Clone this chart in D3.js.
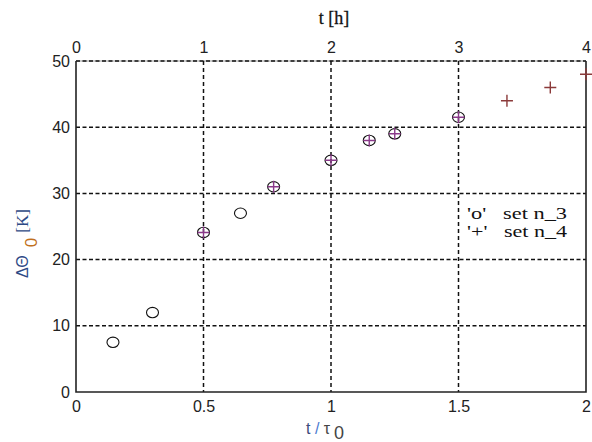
<!DOCTYPE html>
<html><head><meta charset="utf-8">
<script src="https://cdn.jsdelivr.net/npm/d3@7"></script>
<style>body{margin:0;background:#fff}svg{display:block}</style>
</head><body><svg id="c" width="592" height="442"></svg>
<script>
// data
const setN3x = [0.145, 0.30, 0.50, 0.645, 0.775, 1.00, 1.15, 1.25, 1.50];
const setN3y = [7.5, 12.0, 24.1, 27.0, 31.0, 35.0, 38.0, 39.0, 41.5];
const setN4x = [0.50, 0.775, 1.00, 1.15, 1.25, 1.50, 1.69, 1.86, 2.00];
const setN4y = [24.1, 31.0, 35.0, 38.0, 39.0, 41.5, 44.0, 46.0, 48.0];
const bottomTicks = [0, 0.5, 1, 1.5, 2];
const topTicks = [0, 1, 2, 3, 4];
const yTicks = [0, 10, 20, 30, 40, 50];

const svg = d3.select('#c');
const L = 76, R = 586, T = 61, B = 392;
const x = d3.scaleLinear().domain([0, 2]).range([L, R]);
const xTop = d3.scaleLinear().domain([0, 4]).range([L, R]);
const y = d3.scaleLinear().domain([0, 50]).range([B, T]);

// top frame (light solid under dashed grid)
svg.append('line').attr('x1', L).attr('x2', R).attr('y1', T).attr('y2', T)
  .attr('stroke', '#999').attr('stroke-width', 1);

// grid
const g = svg.append('g');
g.selectAll('.vg').data([0.5, 1, 1.5]).enter().append('line')
  .attr('x1', d => x(d)).attr('x2', d => x(d)).attr('y1', T).attr('y2', B)
  .attr('stroke', '#111').attr('stroke-width', 1.5).attr('stroke-dasharray', '4,3');
g.selectAll('.hg').data([10, 20, 30, 40, 50]).enter().append('line')
  .attr('x1', L).attr('x2', R).attr('y1', d => y(d)).attr('y2', d => y(d))
  .attr('stroke', '#111').attr('stroke-width', 1.5).attr('stroke-dasharray', '4,2.5');

// frame (left, bottom, right solid)
svg.append('path').attr('d', `M${L},${T}V${B}H${R}V${T}`)
  .attr('fill', 'none').attr('stroke', '#222').attr('stroke-width', 1.6);

// axes
const fontSans = 'Liberation Sans, Arial, sans-serif';
const fontSerif = 'Liberation Serif, Times New Roman, serif';
const xb = svg.append('g').attr('transform', `translate(0,${B})`)
  .call(d3.axisBottom(x).tickValues(bottomTicks).tickFormat(d3.format('')).tickSize(0).tickPadding(9));
const xt = svg.append('g').attr('transform', `translate(0,${T})`)
  .call(d3.axisTop(xTop).tickValues(topTicks).tickFormat(d3.format('d')).tickSize(0).tickPadding(8));
const yl = svg.append('g').attr('transform', `translate(${L},0)`)
  .call(d3.axisLeft(y).tickValues(yTicks).tickSize(0).tickPadding(6));
[xb, xt, yl].forEach(a => {
  a.select('.domain').remove();
  a.selectAll('text').attr('font-family', fontSans).attr('font-size', 16).attr('fill', '#222');
});

// axis titles
svg.append('text').attr('x', 334).attr('y', 24).attr('text-anchor', 'middle')
  .attr('font-family', fontSerif).attr('font-size', 18).attr('fill', '#111')
  .attr('stroke', '#111').attr('stroke-width', 0.3).text('t [h]');
const xl = svg.append('text').attr('x', 306).attr('y', 434)
  .attr('font-family', fontSans).attr('font-size', 16).attr('fill', '#3c4c7c');
xl.append('tspan').text('t ');
xl.append('tspan').attr('fill', '#4a7ad0').text('/');
xl.append('tspan').attr('fill', '#444').text(' τ');
xl.append('tspan').attr('dx', 4).attr('dy', 5).attr('font-size', 18).attr('fill', '#444').text('0');
const ylab = svg.append('text').attr('transform', 'translate(28,278) rotate(-90)')
  .attr('font-family', fontSerif).attr('font-size', 17).attr('fill', '#2e4a86');
ylab.append('tspan').attr('font-family', fontSans).attr('font-size', 16).text('ΔΘ');
ylab.append('tspan').attr('dx', 8).attr('dy', 9).attr('fill', '#c07020').attr('font-family', fontSans).attr('font-size', 17).text('0');
ylab.append('tspan').attr('dy', -9).attr('dx', 5).text('[K]');

// markers
const n3 = setN3x.map((v, i) => [v, setN3y[i]]);
const n4 = setN4x.map((v, i) => [v, setN4y[i]]);
svg.selectAll('.c3').data(n3).enter().append('ellipse')
  .attr('cx', d => x(d[0])).attr('cy', d => y(d[1])).attr('rx', 6).attr('ry', 5.2)
  .attr('fill', 'none').attr('stroke', '#111').attr('stroke-width', 1.1);
svg.selectAll('.p4').data(n4).enter().append('path')
  .attr('d', d => `M${x(d[0]) - 6},${y(d[1])}h12M${x(d[0])},${y(d[1]) - 6}v12`)
  .attr('stroke', d => d[0] <= 1.5 ? '#8a3a8a' : '#8b3a3a').attr('stroke-width', 1.4);

// legend
svg.append('text').attr('x', 467).attr('y', 219).attr('font-family', fontSerif).attr('font-size', 17).attr('fill', '#111')
  .attr('textLength', 100).attr('lengthAdjust', 'spacingAndGlyphs')
  .attr('xml:space', 'preserve').text("'o'   set n_3");
svg.append('text').attr('x', 467).attr('y', 237).attr('font-family', fontSerif).attr('font-size', 17).attr('fill', '#111')
  .attr('textLength', 100).attr('lengthAdjust', 'spacingAndGlyphs')
  .attr('xml:space', 'preserve').text("'+'   set n_4");
</script></body></html>
